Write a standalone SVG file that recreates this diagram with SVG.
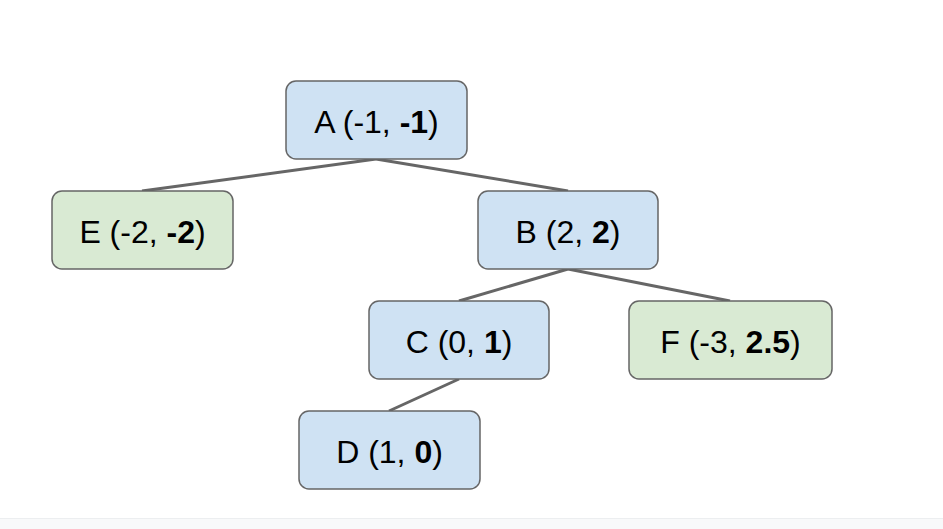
<svg xmlns="http://www.w3.org/2000/svg" width="943" height="529" viewBox="0 0 943 529">
<style>
.n rect{stroke:#666;stroke-width:1.5}
.blue rect{fill:#cfe2f3}
.green rect{fill:#d9ead3}
text{font-family:"Liberation Sans",Arial,sans-serif;font-size:32px;fill:#000;text-anchor:middle}
.b{font-weight:bold}
#edges line{stroke:#666;stroke-width:3}
</style>
<rect x="0" y="0" width="943" height="529" fill="#fff"/>
<rect x="0" y="518" width="943" height="11" fill="#f8f9fa"/>
<line x1="0" y1="518.5" x2="943" y2="518.5" stroke="#eceef0" stroke-width="1"/>
<g id="edges">
<line x1="376" y1="159" x2="142" y2="191"/>
<line x1="376" y1="159" x2="568" y2="191"/>
<line x1="568" y1="269" x2="459" y2="301"/>
<line x1="568" y1="269" x2="730" y2="301"/>
<line x1="459" y1="379" x2="389" y2="411"/>
</g>
<g id="A" class="n blue"><rect x="286" y="81" width="181" height="78" rx="10"/><text x="376.5" y="133">A (-1, <tspan class="b">-1</tspan>)</text></g>
<g id="E" class="n green"><rect x="52" y="191" width="181" height="78" rx="10"/><text x="142.5" y="243">E (-2, <tspan class="b">-2</tspan>)</text></g>
<g id="B" class="n blue"><rect x="478" y="191" width="180" height="78" rx="10"/><text x="568" y="243">B (2, <tspan class="b">2</tspan>)</text></g>
<g id="C" class="n blue"><rect x="369" y="301" width="180" height="78" rx="10"/><text x="459" y="353">C (0, <tspan class="b">1</tspan>)</text></g>
<g id="F" class="n green"><rect x="629" y="301" width="203" height="78" rx="10"/><text x="730.5" y="353">F (-3, <tspan class="b">2.5</tspan>)</text></g>
<g id="D" class="n blue"><rect x="299" y="411" width="181" height="78" rx="10"/><text x="389.5" y="463">D (1, <tspan class="b">0</tspan>)</text></g>
</svg>
